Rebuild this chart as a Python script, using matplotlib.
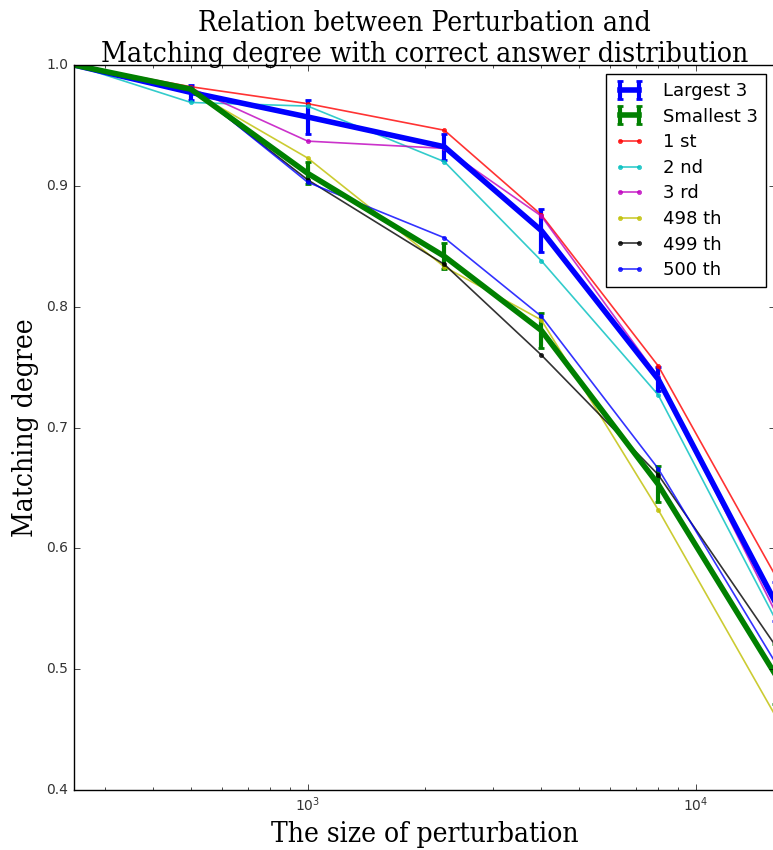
import numpy as np
import matplotlib
matplotlib.use("Agg")
import matplotlib.pyplot as plt

plt.style.use("classic")

# Perturbation sizes
sizes = [250, 500, 1000, 2250, 4000, 8000, 16000]

# Matching degree for each ranked answer
first = [1.0, 0.982, 0.968, 0.946, 0.876, 0.751, 0.578]
second = [1.0, 0.969, 0.966, 0.920, 0.838, 0.727, 0.542]
third = [1.0, 0.981, 0.937, 0.931, 0.875, 0.742, 0.548]
th498 = [1.0, 0.979, 0.923, 0.833, 0.789, 0.632, 0.462]
th499 = [1.0, 0.980, 0.905, 0.835, 0.760, 0.661, 0.520]
th500 = [1.0, 0.981, 0.903, 0.857, 0.792, 0.666, 0.506]

series_labels = ["1 st", "2 nd", "3 rd", "498 th", "499 th", "500 th"]
series_colors = ["r", "c", "m", "y", "k", "b"]

largest = np.array([first, second, third])
smallest = np.array([th498, th499, th500])

fig = plt.figure(figsize=(7.73, 8.5), dpi=100)
fig.patch.set_facecolor("white")
ax = fig.add_axes([74 / 773, 60 / 850, 701 / 773, 725 / 850])

serif = dict(family="DejaVu Serif", stretch="condensed")

eb_large = ax.errorbar(sizes, largest.mean(axis=0), yerr=largest.std(axis=0),
                       color="b", lw=4, elinewidth=3, capsize=2.5, capthick=2)
eb_small = ax.errorbar(sizes, smallest.mean(axis=0), yerr=smallest.std(axis=0),
                       color="g", lw=4, elinewidth=3, capsize=2.5, capthick=2)

line_handles = []
for vals, lab, col in zip([first, second, third, th498, th499, th500],
                          series_labels, series_colors):
    h, = ax.plot(sizes, vals, color=col, marker=".", markersize=6,
                 markeredgecolor=col, lw=1.2, alpha=0.8, label=lab)
    line_handles.append(h)

ax.set_xscale("log")
ax.set_xlim(sizes[0], sizes[-1])
ax.set_ylim(0.4, 1.0)
ax.set_yticks(np.arange(0.4, 1.01, 0.1))

ax.tick_params(labelsize=10, labelcolor="#333333")
ax.set_title("Relation between Perturbation and\nMatching degree with correct answer distribution",
             fontsize=20.3, pad=2, **serif)
ax.set_xlabel("The size of perturbation", fontsize=20.2, **serif)
ax.set_ylabel("Matching degree", fontsize=20.2, **serif)

ax.legend([eb_large, eb_small] + line_handles,
          ["Largest 3", "Smallest 3"] + series_labels,
          loc="upper right", fontsize=13, numpoints=2, borderaxespad=0.5,
          labelspacing=0.42, handlelength=1.7, handletextpad=1.0,
          borderpad=0.45)

fig.savefig("out.png", dpi=100, facecolor="white")
